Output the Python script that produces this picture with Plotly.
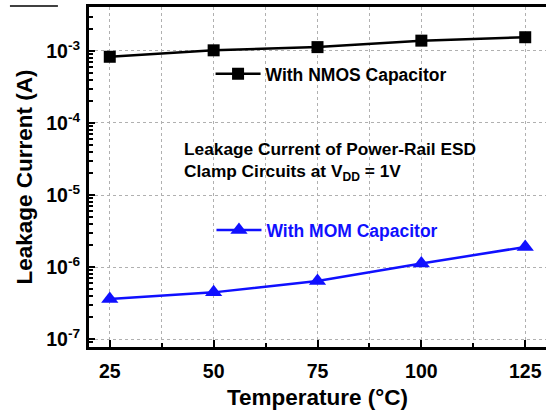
import plotly.graph_objects as go

temps = [25, 50, 75, 100, 125]
nmos_leak = [8.3e-4, 1.02e-3, 1.13e-3, 1.39e-3, 1.55e-3]
mom_leak = [3.6e-7, 4.45e-7, 6.4e-7, 1.12e-6, 1.9e-6]
x_ticks = [25, 50, 75, 100, 125]
x_minor = [12.5 + 25 * i for i in range(1, 6)] + [25, 50, 75, 100, 125]
y_ticks = [1e-7, 1e-6, 1e-5, 1e-4, 1e-3]
y_ticktext = ["10<sup>-7</sup>", "10<sup>-6</sup>", "10<sup>-5</sup>", "10<sup>-4</sup>", "10<sup>-3</sup>"]
y_minor = [m * 10 ** e for e in range(-8, -2) for m in range(2, 10)]

FONT = "Liberation Sans, Arial, sans-serif"

fig = go.Figure()
fig.add_trace(go.Scatter(
    x=temps, y=nmos_leak, mode="lines+markers", name="<b>With NMOS Capacitor</b>",
    line=dict(color="black", width=2.5),
    marker=dict(symbol="square", size=12, color="black"),
    legend="legend",
))
fig.add_trace(go.Scatter(
    x=temps, y=mom_leak, mode="lines+markers", name="<b>With MOM Capacitor</b>",
    line=dict(color="#1010ff", width=2.5),
    marker=dict(symbol="triangle-up", size=15, color="#1010ff"),
    legend="legend2",
))

fig.update_layout(
    width=546, height=410,
    margin=dict(l=89, r=0, t=7, b=63),
    paper_bgcolor="white", plot_bgcolor="white",
    font=dict(family=FONT, color="black"),
    showlegend=True,
    legend=dict(x=0.266, y=0.803, xanchor="left", yanchor="middle",
                bgcolor="rgba(0,0,0,0)", itemwidth=45,
                font=dict(size=17.5, color="black", family=FONT)),
    legend2=dict(x=0.268, y=0.344, xanchor="left", yanchor="middle",
                 bgcolor="rgba(0,0,0,0)", itemwidth=45,
                 font=dict(size=17.5, color="#1010ff", family=FONT)),
    xaxis=dict(
        range=[20, 130], tickvals=x_ticks, ticktext=[f"<b>{v}</b>" for v in x_ticks],
        ticks="inside", ticklen=7, tickwidth=2, tickcolor="black",
        showline=True, linecolor="black", linewidth=3, mirror=True,
        showgrid=True, gridcolor="#b0b0b0", griddash="dot", gridwidth=1,
        minor=dict(tickvals=x_minor, ticks="inside", ticklen=4, tickwidth=2,
                   tickcolor="black", showgrid=True, gridcolor="#b0b0b0", griddash="dot"),
        tickfont=dict(size=19.5, family=FONT), ticklabelstandoff=5,
        title=dict(text="<b>Temperature (°C)</b>", font=dict(size=22.5, family=FONT), standoff=8),
        zeroline=False,
    ),
    yaxis=dict(
        type="log", range=[-7.11, -2.39],
        tickvals=y_ticks, ticktext=[f"<b>{t}</b>" for t in y_ticktext],
        ticks="inside", ticklen=6, tickwidth=2, tickcolor="black",
        showline=True, linecolor="black", linewidth=3, mirror=False,
        showgrid=True, gridcolor="#b0b0b0", griddash="dot", gridwidth=1,
        minor=dict(tickvals=y_minor, ticks="inside", ticklen=4, tickwidth=2,
                   tickcolor="black", showgrid=False),
        tickfont=dict(size=19.5, family=FONT), ticklabelstandoff=2,
        title=dict(text="<b>Leakage Current (A)</b>", font=dict(size=22.5, family=FONT), standoff=8),
        zeroline=False,
    ),
    annotations=[
        dict(text="<b>Leakage Current of Power-Rail ESD<br>Clamp Circuits at V<sub>DD</sub> = 1V</b>",
             xref="paper", yref="paper", x=0.204, y=0.545, xanchor="left", yanchor="middle",
             align="left", showarrow=False, font=dict(size=17.3, family=FONT, color="black")),
    ],
    shapes=[
        dict(type="line", xref="paper", yref="paper", x0=-0.173, x1=-0.068, y0=1.003, y1=1.003,
             line=dict(color="black", width=1.5)),
    ],
)

fig.write_html("out.html")
